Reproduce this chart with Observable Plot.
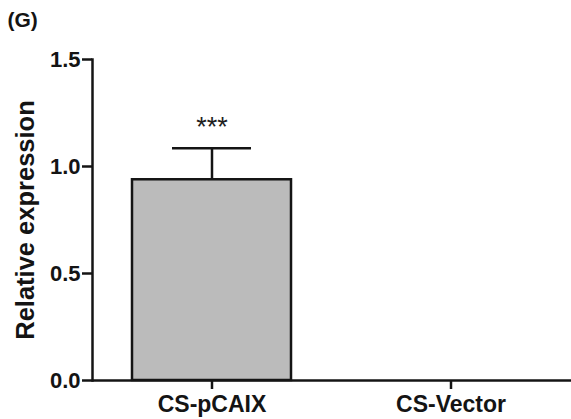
<!DOCTYPE html>
<html>
<head>
<meta charset="utf-8">
<script src="https://cdn.jsdelivr.net/npm/d3@7"></script>
<script src="https://cdn.jsdelivr.net/npm/@observablehq/plot@0.6"></script>
<style>
  html, body { margin: 0; padding: 0; background: #fff; }
</style>
</head>
<body>
<div id="wrap"></div>
<script>
const panelLabel = "(G)";
const categories = ["CS-pCAIX", "CS-Vector"];
const values = [0.938, 0];
const errors = [0.147, 0];
const significance = ["***", ""];
const yTicks = [0, 0.5, 1.0, 1.5];
const yLabel = "Relative expression";

const data = categories.map((c, i) => ({category: c, value: values[i], error: errors[i], sig: significance[i]}));
const withErr = data.filter(d => d.error > 0);
const ink = "#141414";

const chart = Plot.plot({
  width: 571,
  height: 419,
  marginLeft: 92,
  marginRight: 0,
  marginTop: 59,
  marginBottom: 39,
  style: {fontFamily: "'Liberation Sans', Arial, sans-serif", fontWeight: "bold", color: ink, background: "#fff"},
  x: {domain: categories, paddingInner: 1/3, paddingOuter: 1/6, label: null},
  y: {domain: [0, 1.5], label: null},
  marks: [
    Plot.ruleX(withErr, {x: "category", y1: "value", y2: d => d.value + d.error, stroke: ink, strokeWidth: 2.5}),
    Plot.tickY(withErr, {x: "category", y: d => d.value + d.error, stroke: ink, strokeWidth: 2.5, insetLeft: 40, insetRight: 40}),
    Plot.barY(data, {x: "category", y: "value", fill: "#bbbbbb", stroke: ink, strokeWidth: 2.5}),
    Plot.text(withErr, {x: "category", y: d => d.value + d.error, text: "sig", dy: -21, fontSize: 27, fontWeight: "normal", fill: "#1e1e1e"}),
    Plot.axisY({ticks: yTicks, tickFormat: d3.format(".1f"), tickSize: 10, tickPadding: 2, fontSize: 22, fontWeight: "bold", stroke: ink, strokeWidth: 2.5, label: null}),
    Plot.axisX({tickSize: 9, tickPadding: 6, fontSize: 23, fontWeight: "bold", stroke: ink, strokeWidth: 2.5, label: null}),
    Plot.frame({anchor: "left", stroke: ink, strokeWidth: 2.5}),
    Plot.ruleY([0], {stroke: ink, strokeWidth: 2.5}),
    Plot.text([yLabel], {text: d => d, frameAnchor: "left", dx: -67, rotate: -90, fontSize: 25.5, fontWeight: "bold", lineAnchor: "middle", textAnchor: "middle", fill: ink}),
    Plot.text([panelLabel], {text: d => d, frameAnchor: "top-left", dx: -85, dy: -47, fontSize: 21, fontWeight: "bold", lineAnchor: "top", textAnchor: "start", fill: ink})
  ]
});
document.getElementById("wrap").appendChild(chart);
</script>
</body>
</html>
